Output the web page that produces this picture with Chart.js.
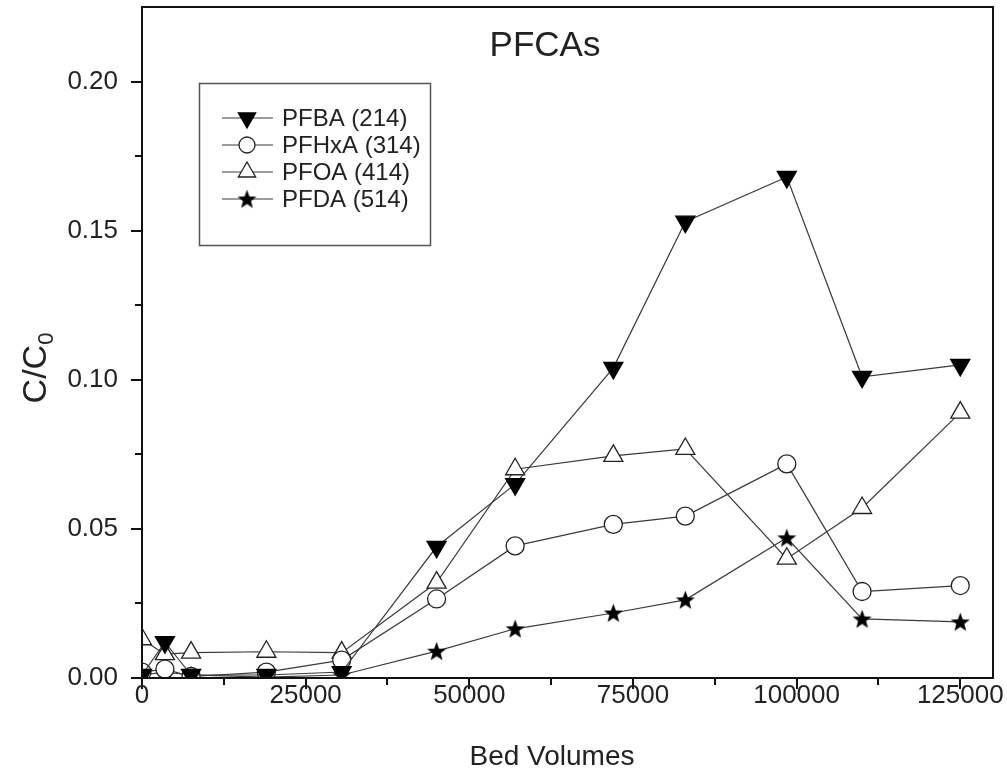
<!DOCTYPE html>
<html>
<head>
<meta charset="utf-8">
<script src="https://cdn.jsdelivr.net/npm/chart.js@4"></script>
<style>
  html, body { margin: 0; padding: 0; background: #fff; }
</style>
</head>
<body>
<canvas id="pfcas" width="1007" height="779"></canvas>
<script>
/* donnees */
const bedVolumes = [0, 3500, 7500, 19000, 30500, 45000, 57000, 72000, 83000, 98500, 110000, 125000];
const pfba  = [0.001, 0.012, 0.001, 0.001, 0.002, 0.044, 0.065, 0.104, 0.153, 0.168, 0.101, 0.105];
const pfhxa = [0.002, 0.003, 0.0005, 0.002, 0.006, 0.0265, 0.0443, 0.0515, 0.0543, 0.0718, 0.029, 0.031];
const pfoa  = [0.013, 0.008, 0.0085, 0.0088, 0.0085, 0.032, 0.070, 0.0745, 0.0768, 0.040, 0.057, 0.089];
const pfda  = [0.001, 0.002, 0.001, 0.0003, 0.001, 0.009, 0.0165, 0.0218, 0.0262, 0.047, 0.0198, 0.0188];
const seriesNames = ["PFBA (214)", "PFHxA (314)", "PFOA (414)", "PFDA (514)"];
const xTicks = [0, 25000, 50000, 75000, 100000, 125000];
const yTicks = [0, 0.05, 0.10, 0.15, 0.20];

const FONT = "'Liberation Sans', Arial, sans-serif";

/* etoile pleine (le 'star' de Chart.js est un asterisque) */
function makeStar(size) {
  const c = document.createElement("canvas");
  c.width = size; c.height = size;
  const g = c.getContext("2d");
  const cx = size / 2, cy = size / 2 + 0.8, ro = size / 2 - 0.5, ri = ro * 0.42;
  g.beginPath();
  for (let i = 0; i < 10; i++) {
    const r = i % 2 === 0 ? ro : ri;
    const a = -Math.PI / 2 + i * Math.PI / 5;
    g.lineTo(cx + r * Math.cos(a), cy + r * Math.sin(a));
  }
  g.closePath();
  g.fillStyle = "#000";
  g.fill();
  return c;
}
const star = makeStar(21);

function pts(values) {
  return bedVolumes.map((v, i) => ({ x: v, y: values[i] }));
}

const lineColor = "#3a3a3a";
const datasets = [
  { label: seriesNames[0], data: pts(pfba), pointStyle: "triangle", rotation: 180, pointRadius: 11,
    pointBackgroundColor: "#000", pointBorderColor: "#000" },
  { label: seriesNames[1], data: pts(pfhxa), pointStyle: "circle", pointRadius: 9,
    pointBackgroundColor: "#fff", pointBorderColor: "#222" },
  { label: seriesNames[2], data: pts(pfoa), pointStyle: "triangle", pointRadius: 11,
    pointBackgroundColor: "#fff", pointBorderColor: "#222" },
  { label: seriesNames[3], data: pts(pfda), pointStyle: star, pointRadius: 10,
    pointBackgroundColor: "#000", pointBorderColor: "#000" },
].map(d => Object.assign({
  borderColor: lineColor, borderWidth: 1.2, pointBorderWidth: 1.3, tension: 0,
}, d));

/* cadre, graduations, titres et legende */
const decor = {
  id: "decor",
  afterDraw(chart) {
    const { ctx, chartArea: a, scales: { x, y } } = chart;
    ctx.save();
    ctx.strokeStyle = "#111";
    ctx.lineWidth = 2;
    ctx.strokeRect(a.left, a.top, a.right - a.left, a.bottom - a.top);

    for (let v = 0; v <= 125000; v += 12500) {
      const px = Math.round(x.getPixelForValue(v));
      const len = v % 25000 === 0 ? 11 : 7;
      ctx.beginPath(); ctx.moveTo(px, a.bottom); ctx.lineTo(px, a.bottom + len); ctx.stroke();
    }
    for (let k = 0; k <= 8; k++) {
      const py = Math.round(y.getPixelForValue(k * 0.025));
      const len = k % 2 === 0 ? 11 : 7;
      ctx.beginPath(); ctx.moveTo(a.left, py); ctx.lineTo(a.left - len, py); ctx.stroke();
    }

    // libelles des graduations
    ctx.fillStyle = "#222";
    ctx.font = "26px " + FONT;
    ctx.textBaseline = "middle";
    ctx.textAlign = "center";
    xTicks.forEach(v => ctx.fillText(String(v), x.getPixelForValue(v), a.bottom + 18));
    ctx.textAlign = "right";
    yTicks.forEach(v => ctx.fillText(v.toFixed(2), a.left - 24, y.getPixelForValue(v)));

    ctx.textAlign = "center";
    ctx.font = "35px " + FONT;
    ctx.fillText("PFCAs", 545, 46);
    ctx.font = "28px " + FONT;
    ctx.fillText("Bed Volumes", 552, 757);

    // C/C0 vertical
    ctx.save();
    ctx.translate(37, 368);
    ctx.rotate(-Math.PI / 2);
    ctx.font = "34px " + FONT;
    const w = ctx.measureText("C/C").width;
    ctx.font = "22px " + FONT;
    const ws = ctx.measureText("0").width;
    ctx.textAlign = "left";
    ctx.font = "34px " + FONT;
    ctx.fillText("C/C", -(w + ws) / 2, 0);
    ctx.font = "22px " + FONT;
    ctx.fillText("0", -(w + ws) / 2 + w, 10);
    ctx.restore();

    // legende
    ctx.strokeStyle = "#555";
    ctx.lineWidth = 1.5;
    ctx.strokeRect(199.5, 83.5, 231, 162);
    chart.data.datasets.forEach((ds, i) => {
      const cy = 118 + i * 27;
      ctx.strokeStyle = lineColor;
      ctx.lineWidth = 1.2;
      ctx.beginPath(); ctx.moveTo(222, cy); ctx.lineTo(273, cy); ctx.stroke();
      ctx.fillStyle = ds.pointBackgroundColor;
      ctx.strokeStyle = ds.pointBorderColor;
      ctx.lineWidth = 1.3;
      Chart.helpers.drawPoint(ctx, {
        pointStyle: ds.pointStyle, rotation: ds.rotation || 0,
        radius: ds.pointStyle === "circle" ? 8 : 10, borderWidth: 1.3,
      }, 247, cy);
      ctx.fillStyle = "#222";
      ctx.font = "24px " + FONT;
      ctx.textAlign = "left";
      ctx.fillText(ds.label, 282, cy + 1);
    });
    ctx.restore();
  },
};

new Chart(document.getElementById("pfcas"), {
  type: "line",
  data: { datasets },
  options: {
    responsive: false,
    animation: false,
    layout: { autoPadding: false, padding: { top: 7, right: 14, left: 0, bottom: 0 } },
    plugins: { legend: { display: false }, tooltip: { enabled: false } },
    scales: {
      x: {
        type: "linear",
        min: 0,
        max: 130000,
        afterFit: s => { s.height = 101; },
        grid: { display: false },
        border: { display: false },
        ticks: { display: false },
      },
      y: {
        min: 0,
        max: 0.225,
        afterFit: s => { s.width = 142; },
        grid: { display: false },
        border: { display: false },
        ticks: { display: false },
      },
    },
  },
  plugins: [decor],
});
</script>
</body>
</html>
